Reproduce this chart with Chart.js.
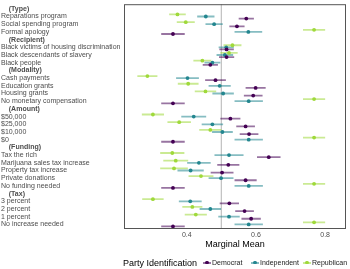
<!DOCTYPE html>
<html>
<head>
<meta charset="utf-8">
<script src="https://cdn.jsdelivr.net/npm/chart.js@4.4.1/dist/chart.umd.min.js"></script>
<style>
  html, body { margin: 0; padding: 0; background: #fff; }
  #wrap { position: relative; width: 350px; height: 269px; }
  #legend { position: absolute; left: 0; top: 257px; width: 350px; height: 12px; font-family: 'Liberation Sans', Arial, sans-serif; }
  .lg { position: absolute; top: 0; line-height: 12px; white-space: nowrap; color: #000; }
  .key { position: absolute; top: 5px; width: 8px; height: 2px; }
  .key i { position: absolute; left: 0; top: 0; width: 8px; height: 1.6px; opacity: 0.55; }
  .key b { position: absolute; left: 2.3px; top: -1.2px; width: 3.6px; height: 3.6px; border-radius: 50%; }
</style>
</head>
<body>
<div id="wrap">
  <canvas id="myChart"></canvas>
  <div id="legend"></div>
</div>
<script>
'use strict';
const FONT = "'Liberation Sans', Arial, sans-serif";

let categories = [
    '(Type)', 'Reparations program', 'Social spending program', 'Formal apology',
    '(Recipient)', 'Black victims of housing discrimination', 'Black descendants of slavery', 'Black people',
    '(Modality)', 'Cash payments', 'Education grants', 'Housing grants', 'No monetary compensation',
    '(Amount)', '$50,000', '$25,000', '$10,000', '$0',
    '(Funding)', 'Tax the rich', 'Marijuana sales tax increase', 'Property tax increase', 'Private donations', 'No funding needed',
    '(Tax)', '3 percent', '2 percent', '1 percent', 'No increase needed'
];

// marginal means (null = group header row)
let democrat = [null, 0.572, 0.545, 0.360, null, 0.515, 0.515, 0.468, null, 0.483, 0.599, 0.592, 0.360,
    null, 0.526, 0.570, 0.580, 0.360, null, 0.637, 0.520, 0.502, 0.570, 0.360, null, 0.523, 0.567, 0.586, 0.360];
let independent = [null, 0.455, 0.479, 0.578, null, 0.514, 0.510, 0.474, null, 0.402, 0.495, 0.505, 0.579,
    null, 0.420, 0.474, 0.503, 0.579, null, 0.522, 0.435, 0.411, 0.499, 0.579, null, 0.410, 0.468, 0.522, 0.579];
let republican = [null, 0.373, 0.397, 0.768, null, 0.532, 0.522, 0.445, null, 0.286, 0.404, 0.454, 0.768,
    null, 0.302, 0.378, 0.468, 0.768, null, 0.358, 0.368, 0.363, 0.441, 0.768, null, 0.302, 0.416, 0.426, 0.768];

// half widths of the confidence intervals
let democratCI = [null, 0.022, 0.022, 0.034, null, 0.021, 0.022, 0.022, null, 0.030, 0.029, 0.027, 0.034,
    null, 0.029, 0.027, 0.027, 0.034, null, 0.034, 0.032, 0.033, 0.032, 0.034, null, 0.028, 0.027, 0.028, 0.034];
let independentCI = [null, 0.025, 0.025, 0.040, null, 0.022, 0.024, 0.023, null, 0.033, 0.032, 0.031, 0.041,
    null, 0.036, 0.031, 0.030, 0.041, null, 0.042, 0.034, 0.038, 0.036, 0.041, null, 0.033, 0.031, 0.031, 0.041];
let republicanCI = [null, 0.024, 0.026, 0.032, null, 0.026, 0.025, 0.026, null, 0.029, 0.030, 0.031, 0.032,
    null, 0.032, 0.034, 0.032, 0.032, null, 0.035, 0.036, 0.040, 0.036, 0.032, null, 0.031, 0.029, 0.032, 0.032];

let xTicks = [0.4, 0.6, 0.8];
let referenceMean = 0.5;

let parties = [
    { name: 'Democrat', means: democrat, ci: democratCI, color: '#440154', rgb: '68,1,84', shift: 0.27 },
    { name: 'Independent', means: independent, ci: independentCI, color: '#23868f', rgb: '35,134,143', shift: 0 },
    { name: 'Republican', means: republican, ci: republicanCI, color: '#9fd93a', rgb: '159,217,58', shift: -0.27 }
];

function isHeader(i) {
    let c = categories[i];
    return typeof c === 'string' && c.charAt(0) === '(';
}

function ciSegments(p) {
    let pts = [];
    for (let i = 0; i < p.means.length; i++) {
        if (p.means[i] === null) continue;
        pts.push({ x: p.means[i] - p.ci[i], y: i + p.shift });
        pts.push({ x: p.means[i] + p.ci[i], y: i + p.shift });
        pts.push({ x: p.means[i], y: null });
    }
    return pts;
}

function meanPoints(p) {
    let pts = [];
    for (let i = 0; i < p.means.length; i++) {
        if (p.means[i] === null) continue;
        pts.push({ x: p.means[i], y: i + p.shift });
    }
    return pts;
}

const yMin = -0.6;
const yMax = categories.length - 1 + 0.6;

let datasets = [];
parties.forEach(p => {
    datasets.push({
        label: p.name + ' CI', data: ciSegments(p), showLine: true, spanGaps: false,
        borderColor: 'rgba(' + p.rgb + ',0.55)', borderWidth: 1.8, pointRadius: 0, order: 5
    });
    datasets.push({
        label: p.name, data: meanPoints(p), pointRadius: 1.9, pointBorderWidth: 0,
        backgroundColor: p.color, borderColor: p.color, order: 1
    });
});
datasets.push({
    label: 'reference', data: [{ x: referenceMean, y: yMin }, { x: referenceMean, y: yMax }],
    showLine: true, borderColor: '#c4c4c4', borderWidth: 1, pointRadius: 0, order: 10
});

const panelFrame = {
    id: 'panelFrame',
    afterDatasetsDraw(chart) {
        const { ctx, chartArea: a } = chart;
        ctx.save();
        ctx.strokeStyle = '#555';
        ctx.lineWidth = 1;
        ctx.strokeRect(a.left + 0.5, a.top + 0.5, a.right - a.left - 1, a.bottom - a.top - 1);
        ctx.restore();
    }
};

var ctx = document.getElementById('myChart').getContext('2d');
var myChart = new Chart(ctx, {
    type: 'scatter',
    data: { datasets: datasets },
    plugins: [panelFrame],
    options: {
        responsive: true,
        maintainAspectRatio: false,
        animation: false,
        layout: { padding: { left: 1, right: 2, top: 1, bottom: 0 } },
        plugins: { legend: { display: false }, tooltip: { enabled: false } },
        scales: {
            x: {
                type: 'linear', min: 0.2184, max: 0.8603,
                grid: { display: false, drawTicks: false },
                border: { display: false },
                afterBuildTicks: s => { s.ticks = xTicks.map(v => ({ value: v })); },
                afterFit: s => { s.height = 40; },
                ticks: {
                    padding: 2, maxRotation: 0, color: '#4d4d4d',
                    font: { family: FONT, size: 7 },
                    callback: v => v.toFixed(1)
                },
                title: {
                    display: true, text: 'Marginal Mean', color: '#000',
                    font: { family: FONT, size: 9 }, padding: { top: 0, bottom: 19 }
                }
            },
            y: {
                type: 'linear', reverse: true, min: yMin, max: yMax,
                grid: { display: false, drawTicks: false },
                border: { display: false },
                afterBuildTicks: s => { s.ticks = categories.map((c, i) => ({ value: i })); },
                afterFit: s => { s.width = 123; },
                ticks: {
                    autoSkip: false, crossAlign: 'far', padding: 0, color: '#4d4d4d',
                    font: c => ({ family: FONT, size: 7, weight: (c.tick && isHeader(c.tick.value)) ? 'bold' : 'normal' }),
                    callback: v => isHeader(v) ? '    ' + categories[v] : (categories[v] || '')
                }
            }
        }
    }
});

// legend row
let legendEl = document.getElementById('legend');
let html = '<span class="lg" style="left:123px;font-size:9px">Party Identification</span>';
let keyLeft = [203, 251, 303];
parties.forEach((p, k) => {
    html += '<span class="key" style="left:' + keyLeft[k] + 'px"><i style="background:' + p.color + '"></i><b style="background:' + p.color + '"></b></span>';
    html += '<span class="lg" style="left:' + (keyLeft[k] + 9) + 'px;font-size:7px;color:#1a1a1a">' + p.name + '</span>';
});
legendEl.innerHTML = html;
</script>
</body>
</html>
